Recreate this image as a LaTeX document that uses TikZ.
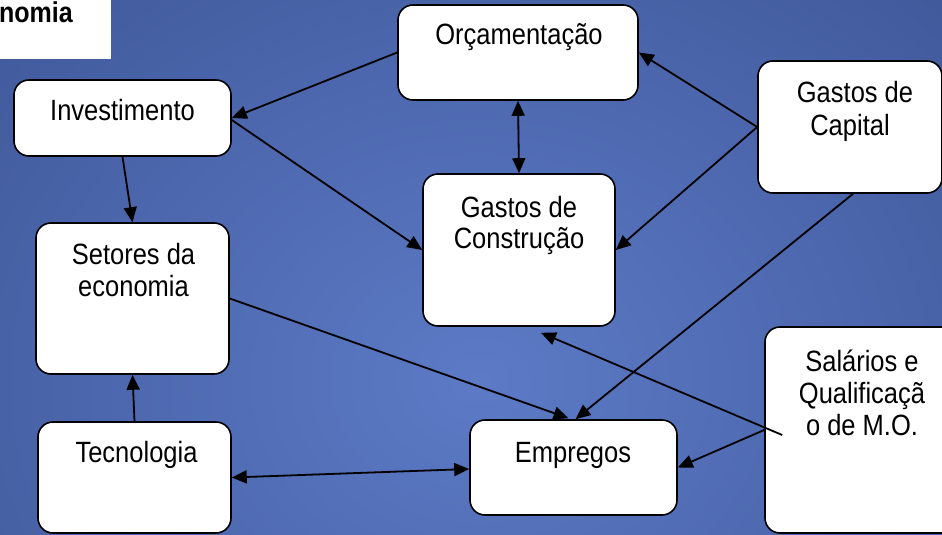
\documentclass[tikz,border=0pt]{standalone}
\usepackage{fontspec}
\setmainfont{Liberation Sans}
\usetikzlibrary{arrows.meta,calc}
\newcommand\tallt[1]{\scalebox{1}[1.15]{#1}}
\definecolor{bgin}{RGB}{92,122,198}
\definecolor{bgout}{RGB}{60,84,148}
\begin{document}
\begin{tikzpicture}[x=1pt,y=-1pt]
\tikzset{
 box/.style 2 args={draw=black, line width=1.6pt, fill=white, rounded corners=15pt, inner sep=0pt, minimum width=#1pt, minimum height=#2pt},
 lbl/.style={inner sep=0pt, anchor=base, font=\fontsize{25.5}{30}\selectfont},
 arr/.style={line width=1.8pt, -{Triangle[length=15pt,width=13pt]}},
 darr/.style={line width=1.8pt, {Triangle[length=15pt,width=13pt]}-{Triangle[length=15pt,width=13pt]}},
}
\useasboundingbox (0,0) rectangle (942,535);
\begin{scope}
\clip (0,0) rectangle (942,535);
\shade[inner color=bgin, outer color=bgout] (-280,-260) rectangle (1240,1020);
% title box
\fill[white] (0,0) rectangle (111,59);
\end{scope}
\node[lbl, anchor=base east, font=\fontsize{25}{30}\selectfont\bfseries] (title) at (73,23) {\tallt{nomia}};

\begin{scope}
\clip (0,0) rectangle (942,535);
\node[box={217}{76}] (inv) at (122.5,118) {};
\node[box={193}{151}] (set) at (132.5,298.5) {};
\node[box={193}{111}] (tec) at (134.5,477.5) {};
\node[box={240}{95}] (orc) at (518,52.5) {};
\node[box={192}{152}] (gcon) at (519,250) {};
\node[box={184}{132}] (gcap) at (850,127) {};
\node[box={192}{206}] (sal) at (861,430) {};
\node[box={207}{95}] (emp) at (573.5,467.5) {};
\end{scope}

% connectors
\draw[arr] (orc.west) -- (inv.east);
\draw[arr] ([yshift=-2pt]inv.east) -- (gcon.west);
\draw[arr] (inv.south) -- (set.north);
\draw[darr] (orc.south) -- (gcon.north);
\draw[arr] (gcap.west) -- (orc.east);
\draw[arr] (gcap.west) -- (gcon.east);
\draw[arr] ([xshift=3pt]gcap.south) -- ([xshift=2pt]emp.north);
\draw[arr] (set.east) -- ([xshift=-5pt,yshift=1pt]emp.north);
\coordinate (salin) at ($(sal.west)+(18,5)$);
\coordinate (gconb) at ($(gcon.south)+(22,6)$);
\draw[arr] (salin) -- (gconb);
\draw[arr] (sal.west) -- (emp.east);
\draw[arr] (tec.north) -- (set.south);
\draw[darr] (tec.east) -- ([yshift=-1.5pt]emp.west);

% texts
\node[lbl] (tinv) at (122.5,120) {\tallt{Investimento}};
\node[lbl] (torc) at (519,45) {\tallt{Orçamentação}};
\node[lbl] (tgcon1) at (519,217) {\tallt{Gastos de}};
\node[lbl] (tgcon2) at (519,248) {\tallt{Construção}};
\node[lbl] (tset1) at (133.5,264) {\tallt{Setores da}};
\node[lbl] (tset2) at (133.5,296) {\tallt{economia}};
\node[lbl] (ttec) at (136.5,462) {\tallt{Tecnologia}};
\node[lbl] (tgcap1) at (855,102) {\tallt{Gastos de}};
\node[lbl] (tgcap2) at (850,135) {\tallt{Capital}};
\node[lbl] (tsal1) at (862,371) {\tallt{Salários e}};
\node[lbl] (tsal2) at (862,403) {\tallt{Qualificaçã}};
\node[lbl] (tsal3) at (862,435) {\tallt{o de M.O.}};
\node[lbl] (temp) at (573,462) {\tallt{Empregos}};
\end{tikzpicture}
\end{document}
